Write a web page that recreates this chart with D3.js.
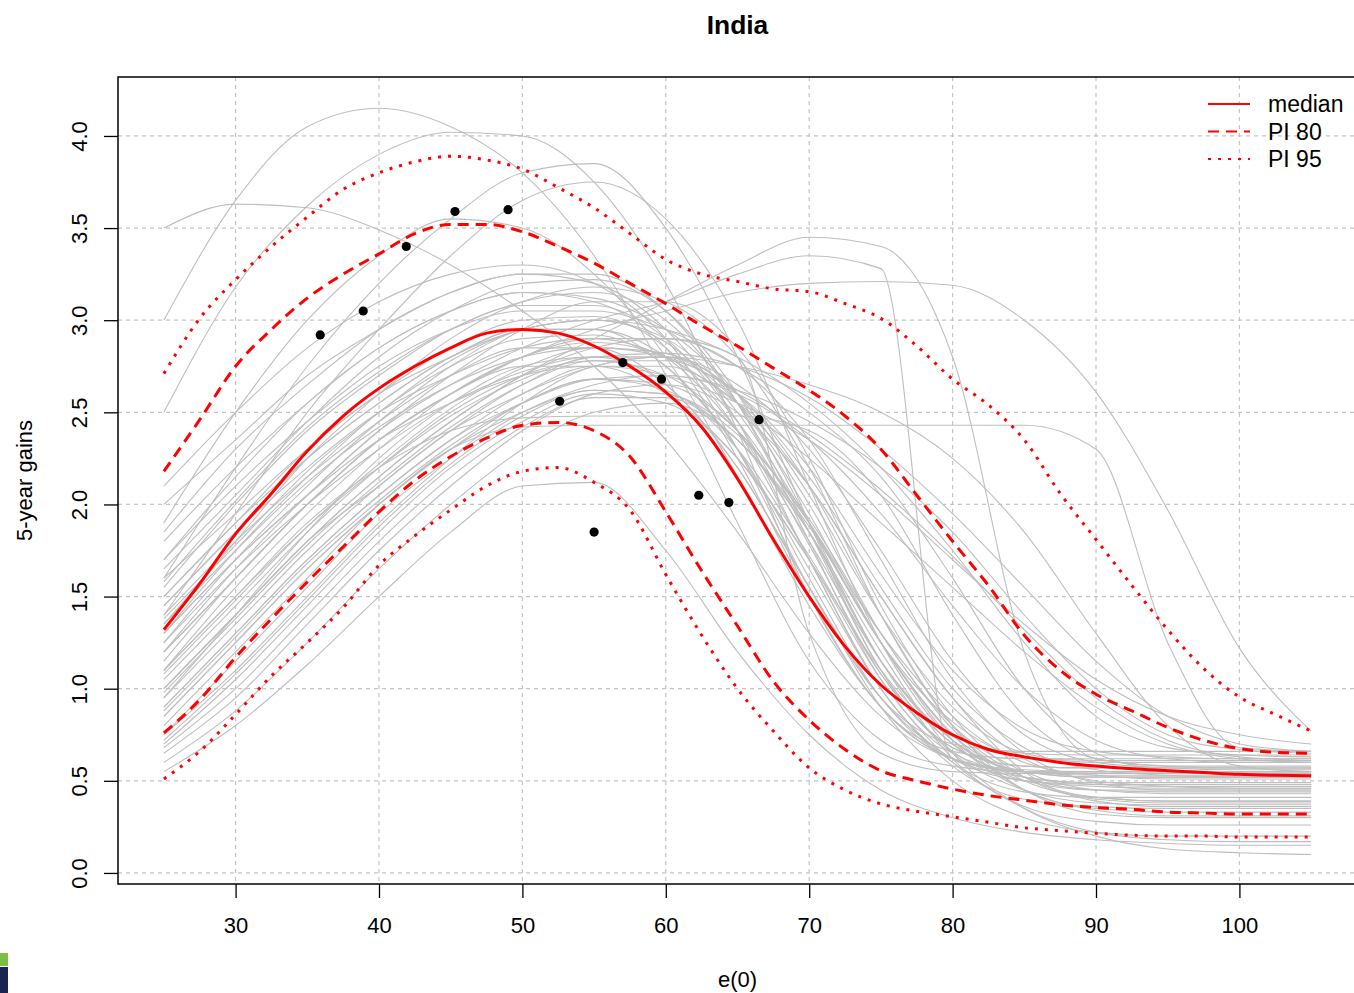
<!DOCTYPE html>
<html>
<head>
<meta charset="utf-8">
<script src="https://cdn.jsdelivr.net/npm/d3@7"></script>
<style>
body { margin: 0; background: #fff; }
text { font-family: "Liberation Sans", Arial, sans-serif; fill: #000; }
</style>
</head>
<body>
<svg width="1354" height="993"></svg>
<script>
// e(0) grid for the quantile lines
var e0Grid = [25,27.5,30,32.5,35,37.5,40,42.5,45,47.5,50,52.5,55,57.5,60,62.5,65,67.5,70,72.5,75,77.5,80,82.5,85,87.5,90,92.5,95,97.5,100,102.5,105];
var medianGain = [1.32,1.57,1.84,2.06,2.29,2.48,2.63,2.75,2.85,2.93,2.95,2.93,2.86,2.75,2.61,2.42,2.14,1.81,1.50,1.23,1.02,0.87,0.75,0.67,0.63,0.60,0.58,0.565,0.555,0.545,0.535,0.53,0.527];
var pi80High = [2.18,2.46,2.75,2.95,3.12,3.25,3.36,3.47,3.52,3.52,3.48,3.40,3.31,3.20,3.09,2.97,2.86,2.74,2.62,2.48,2.30,2.05,1.80,1.56,1.29,1.10,0.97,0.88,0.79,0.72,0.675,0.655,0.65];
var pi80Low = [0.76,0.94,1.17,1.38,1.58,1.77,1.96,2.13,2.26,2.36,2.43,2.445,2.40,2.26,1.96,1.64,1.34,1.04,0.83,0.67,0.555,0.50,0.455,0.42,0.395,0.37,0.355,0.345,0.33,0.325,0.32,0.32,0.32];
var pi95High = [2.71,3.01,3.22,3.40,3.56,3.71,3.80,3.86,3.89,3.87,3.82,3.72,3.61,3.47,3.33,3.25,3.21,3.17,3.155,3.09,3.01,2.86,2.68,2.54,2.35,2.06,1.81,1.56,1.32,1.11,0.955,0.86,0.77];
var pi95Low = [0.51,0.66,0.86,1.07,1.25,1.44,1.67,1.83,1.97,2.10,2.18,2.20,2.12,1.97,1.62,1.29,1.00,0.77,0.57,0.45,0.375,0.335,0.305,0.275,0.245,0.23,0.215,0.205,0.20,0.20,0.195,0.195,0.195];

// observed gains
var obsE0 = [35.9,38.9,41.9,45.3,49.0,52.6,55.0,57.0,59.7,62.3,64.4,66.5];
var obsGain = [2.92,3.05,3.40,3.59,3.60,2.56,1.85,2.77,2.68,2.05,2.01,2.46];

// simulated trajectories, one value per e(0) in trajGrid
var trajGrid = [25,30,35,40,45,50,55,60,65,70,75,80,85,90,95,100,105];
var trajectories = [
  [1.30,1.75,2.15,2.50,2.75,2.90,2.92,2.75,2.30,1.60,0.95,0.62,0.55,0.53,0.53,0.53,0.53],
  [1.10,1.55,1.95,2.30,2.60,2.80,2.88,2.80,2.45,1.85,1.15,0.70,0.52,0.48,0.47,0.47,0.47],
  [1.55,2.00,2.40,2.70,2.95,3.10,3.15,3.00,2.55,1.85,1.10,0.68,0.58,0.57,0.57,0.57,0.57],
  [0.95,1.35,1.75,2.10,2.40,2.65,2.80,2.80,2.55,2.00,1.30,0.80,0.55,0.45,0.43,0.43,0.43],
  [1.80,2.20,2.55,2.85,3.05,3.15,3.10,2.85,2.25,1.50,0.90,0.66,0.62,0.62,0.62,0.62,0.62],
  [1.20,1.65,2.05,2.40,2.70,2.95,3.10,3.10,2.85,2.25,1.45,0.85,0.52,0.40,0.38,0.38,0.38],
  [0.75,1.10,1.50,1.90,2.25,2.55,2.75,2.80,2.60,2.10,1.40,0.80,0.45,0.35,0.33,0.33,0.33],
  [1.65,2.05,2.45,2.80,3.05,3.20,3.22,3.05,2.60,1.90,1.15,0.74,0.65,0.64,0.64,0.64,0.64],
  [1.40,1.80,2.15,2.45,2.70,2.85,2.85,2.65,2.20,1.55,0.95,0.62,0.50,0.48,0.48,0.48,0.48],
  [2.00,2.35,2.70,2.95,3.15,3.25,3.25,3.05,2.55,1.80,1.05,0.65,0.55,0.55,0.55,0.55,0.55],
  [0.90,1.30,1.70,2.05,2.35,2.60,2.75,2.75,2.55,2.10,1.50,0.95,0.62,0.50,0.47,0.46,0.46],
  [1.05,1.45,1.85,2.20,2.50,2.70,2.78,2.70,2.40,1.90,1.30,0.85,0.60,0.53,0.51,0.51,0.51],
  [1.50,1.90,2.30,2.60,2.85,3.00,3.02,2.85,2.40,1.70,1.00,0.60,0.44,0.41,0.41,0.41,0.41],
  [0.65,0.95,1.35,1.75,2.10,2.40,2.60,2.65,2.50,2.10,1.50,0.95,0.55,0.39,0.36,0.36,0.36],
  [1.25,1.70,2.10,2.45,2.75,2.95,3.00,2.90,2.55,1.95,1.25,0.75,0.52,0.45,0.44,0.44,0.44],
  [1.85,2.30,2.65,2.95,3.15,3.25,3.20,2.95,2.45,1.70,1.00,0.62,0.52,0.49,0.49,0.49,0.49],
  [1.00,1.40,1.80,2.15,2.45,2.70,2.85,2.90,2.75,2.35,1.70,1.05,0.65,0.49,0.45,0.45,0.45],
  [1.60,1.95,2.30,2.60,2.80,2.95,2.95,2.80,2.40,1.80,1.15,0.72,0.55,0.52,0.52,0.52,0.52],
  [0.80,1.20,1.60,2.00,2.30,2.55,2.68,2.65,2.40,1.90,1.25,0.75,0.45,0.32,0.30,0.30,0.30],
  [1.35,1.80,2.25,2.60,2.90,3.10,3.18,3.10,2.80,2.20,1.40,0.80,0.52,0.41,0.39,0.39,0.39],
  [2.10,2.50,2.85,3.10,3.25,3.30,3.20,2.90,2.30,1.55,0.95,0.70,0.66,0.66,0.66,0.66,0.66],
  [0.70,1.05,1.45,1.85,2.20,2.45,2.60,2.55,2.25,1.70,1.05,0.60,0.36,0.28,0.26,0.26,0.26],
  [1.15,1.60,2.00,2.35,2.60,2.75,2.75,2.60,2.25,1.70,1.10,0.70,0.50,0.45,0.45,0.45,0.45],
  [1.70,2.15,2.55,2.85,3.05,3.15,3.12,2.95,2.60,2.05,1.40,0.90,0.65,0.60,0.60,0.60,0.60],
  [0.60,0.88,1.25,1.65,2.00,2.30,2.50,2.55,2.35,1.85,1.15,0.62,0.35,0.22,0.18,0.17,0.17],
  [0.55,0.80,1.13,1.50,1.85,2.10,2.12,1.75,1.20,0.75,0.45,0.30,0.22,0.18,0.16,0.15,0.15],
  [0.95,1.40,1.85,2.25,2.55,2.75,2.80,2.65,2.20,1.55,0.90,0.50,0.30,0.22,0.20,0.20,0.20],
  [1.45,1.85,2.25,2.55,2.80,2.95,2.95,2.75,2.30,1.65,1.00,0.58,0.40,0.36,0.35,0.35,0.35],
  [0.85,1.25,1.65,2.00,2.30,2.50,2.62,2.60,2.35,1.85,1.20,0.65,0.35,0.20,0.13,0.11,0.10],
  [1.25,1.65,2.00,2.30,2.55,2.72,2.80,2.80,2.65,2.30,1.75,1.15,0.75,0.60,0.57,0.56,0.56],
  [0.88,1.28,1.68,2.02,2.32,2.55,2.68,2.62,2.30,1.72,1.08,0.65,0.45,0.38,0.37,0.37,0.37],
  [1.38,1.78,2.18,2.50,2.78,2.95,3.00,2.88,2.50,1.90,1.25,0.82,0.63,0.61,0.61,0.61,0.61],
  [1.08,1.48,1.88,2.22,2.52,2.74,2.85,2.82,2.60,2.15,1.55,1.00,0.68,0.56,0.53,0.52,0.52],
  [0.68,1.00,1.40,1.80,2.15,2.42,2.58,2.58,2.35,1.88,1.25,0.72,0.45,0.34,0.31,0.31,0.31],
  [1.58,2.02,2.42,2.72,2.95,3.08,3.08,2.90,2.45,1.78,1.08,0.66,0.50,0.47,0.46,0.46,0.46],
  [0.98,1.38,1.78,2.12,2.42,2.65,2.78,2.78,2.60,2.20,1.62,1.10,0.78,0.66,0.63,0.62,0.62],
  [0.72,1.08,1.48,1.88,2.22,2.48,2.62,2.60,2.38,1.92,1.30,0.78,0.50,0.41,0.39,0.39,0.39],
  [3.00,3.65,4.05,4.15,4.05,3.80,3.35,2.70,1.90,1.15,0.72,0.58,0.55,0.55,0.55,0.55,0.55],
  [2.50,3.18,3.62,3.90,4.02,4.00,3.75,3.20,2.40,1.50,0.90,0.62,0.55,0.54,0.54,0.54,0.54],
  [3.50,3.63,3.61,3.49,3.30,3.05,2.75,2.35,1.85,1.30,0.85,0.62,0.56,0.55,0.55,0.55,0.55],
  [1.60,2.20,2.75,3.20,3.55,3.80,3.85,3.50,2.80,1.90,1.10,0.68,0.58,0.57,0.57,0.57,0.57],
  [1.90,2.50,3.00,3.35,3.55,3.50,3.25,2.80,2.15,1.45,0.90,0.62,0.55,0.55,0.55,0.55,0.55],
  [1.40,1.95,2.50,2.95,3.35,3.65,3.75,3.55,3.00,2.10,1.25,0.72,0.55,0.52,0.52,0.52,0.52],
  [1.00,1.40,1.80,2.15,2.45,2.70,2.90,3.10,3.30,3.45,3.40,2.80,1.20,0.62,0.58,0.57,0.57],
  [1.30,1.70,2.05,2.40,2.65,2.85,3.00,3.10,3.25,3.35,3.28,0.62,0.55,0.55,0.55,0.55,0.55],
  [1.20,1.60,2.00,2.35,2.60,2.80,2.95,3.05,3.15,3.20,3.21,3.19,3.00,2.61,1.97,1.22,0.77],
  [0.85,1.25,1.65,2.00,2.30,2.42,2.43,2.43,2.43,2.43,2.43,2.43,2.43,2.30,1.25,0.68,0.66],
  [1.10,1.50,1.90,2.20,2.40,2.47,2.48,2.48,2.48,2.40,2.05,1.40,0.85,0.62,0.58,0.58,0.58],
  [1.30,1.70,2.05,2.35,2.55,2.70,2.75,2.70,2.55,2.35,2.05,1.70,1.35,1.05,0.85,0.75,0.70],
  [0.90,1.30,1.70,2.05,2.35,2.55,2.68,2.70,2.62,2.45,2.20,1.85,1.40,1.00,0.75,0.67,0.65],
  [1.50,1.90,2.25,2.55,2.80,2.95,3.00,2.95,2.80,2.55,2.20,1.75,1.25,0.85,0.68,0.64,0.63],
  [0.75,1.15,1.55,1.95,2.25,2.50,2.65,2.70,2.60,2.35,1.95,1.45,1.00,0.72,0.62,0.60,0.60],
  [1.70,2.10,2.45,2.75,2.95,3.05,3.05,2.95,2.75,2.50,2.15,1.60,1.00,0.65,0.56,0.55,0.55],
  [1.00,1.40,1.80,2.10,2.40,2.60,2.75,2.80,2.75,2.65,2.50,2.25,1.85,1.30,0.80,0.58,0.55],
  [1.45,1.85,2.20,2.50,2.70,2.85,2.90,2.80,2.55,2.25,1.90,1.55,1.20,0.90,0.70,0.62,0.60],
  [1.10,1.50,1.88,2.20,2.48,2.68,2.80,2.82,2.75,2.58,2.30,1.95,1.55,1.15,0.85,0.70,0.66],
  [1.35,1.75,2.12,2.42,2.65,2.80,2.85,2.80,2.62,2.38,2.08,1.72,1.32,0.95,0.72,0.63,0.61],
  [1.20,1.60,2.00,2.35,2.60,2.80,2.90,2.90,2.80,1.30,0.65,0.55,0.54,0.54,0.54,0.54,0.54]
];

var xTicks = [30,40,50,60,70,80,90,100];
var yTicks = [0,0.5,1,1.5,2,2.5,3,3.5,4];
var yTickLabels = ["0.0","0.5","1.0","1.5","2.0","2.5","3.0","3.5","4.0"];
var legendLabels = ["median","PI 80","PI 95"];

var svg = d3.select("svg"),
    width = +svg.attr("width"),
    height = +svg.attr("height");

var plotLeft = 118, plotRight = 1357, plotTop = 77, plotBottom = 884;

var x = d3.scaleLinear().domain([21.8, 108.2]).range([plotLeft, plotRight]);
var y = d3.scaleLinear().domain([-0.06, 4.32]).range([plotBottom, plotTop]);

svg.append("rect").attr("width", width).attr("height", height).attr("fill", "#fff");

svg.append("defs").append("clipPath").attr("id", "plotclip")
  .append("rect").attr("x", plotLeft).attr("y", plotTop)
  .attr("width", plotRight - plotLeft).attr("height", plotBottom - plotTop);

// grid (R grid(): dotted lightgray)
var grid = svg.append("g").attr("stroke", "#c4c4c4").attr("stroke-width", 1.2).attr("stroke-dasharray", "4,4");
grid.selectAll(".gx").data(xTicks).enter().append("line")
  .attr("x1", function(d) { return x(d); }).attr("x2", function(d) { return x(d); })
  .attr("y1", plotTop).attr("y2", plotBottom);
grid.selectAll(".gy").data(yTicks).enter().append("line")
  .attr("x1", plotLeft).attr("x2", plotRight)
  .attr("y1", function(d) { return y(d); }).attr("y2", function(d) { return y(d); });

var plot = svg.append("g").attr("clip-path", "url(#plotclip)");

var trajLine = d3.line()
  .x(function(d, i) { return x(trajGrid[i]); })
  .y(function(d) { return y(d); })
  .curve(d3.curveMonotoneX);

plot.selectAll(".traj").data(trajectories).enter().append("path")
  .attr("class", "traj")
  .attr("d", trajLine)
  .attr("fill", "none")
  .attr("stroke", "#bebebe")
  .attr("stroke-width", 1.1);

var qLine = d3.line()
  .x(function(d, i) { return x(e0Grid[i]); })
  .y(function(d) { return y(d); })
  .curve(d3.curveMonotoneX);

var quantiles = [
  {v: pi95High, dash: "3,7", w: 3},
  {v: pi95Low, dash: "3,7", w: 3},
  {v: pi80High, dash: "11,7", w: 3},
  {v: pi80Low, dash: "11,7", w: 3},
  {v: medianGain, dash: null, w: 3}
];
plot.selectAll(".q").data(quantiles).enter().append("path")
  .attr("d", function(d) { return qLine(d.v); })
  .attr("fill", "none")
  .attr("stroke", "#ff0000")
  .attr("stroke-width", function(d) { return d.w; })
  .attr("stroke-dasharray", function(d) { return d.dash; });

plot.selectAll(".obs").data(obsE0).enter().append("circle")
  .attr("cx", function(d) { return x(d); })
  .attr("cy", function(d, i) { return y(obsGain[i]); })
  .attr("r", 4.6)
  .attr("fill", "#000");

// axes
var xAxis = svg.append("g").attr("transform", "translate(0," + plotBottom + ")")
  .call(d3.axisBottom(x).tickValues(xTicks).tickSize(14).tickSizeOuter(0).tickPadding(19).tickFormat(d3.format("d")));
xAxis.select(".domain").remove();
xAxis.selectAll("text").attr("font-size", 22).attr("font-family", "Liberation Sans, Arial, sans-serif");
xAxis.selectAll("line").attr("stroke", "#000").attr("stroke-width", 1.3);

var yAxis = svg.append("g").attr("transform", "translate(" + plotLeft + ",0)")
  .call(d3.axisLeft(y).tickValues(yTicks).tickSize(14).tickSizeOuter(0)
    .tickFormat(function(d, i) { return yTickLabels[i]; }));
yAxis.select(".domain").remove();
yAxis.selectAll("line").attr("stroke", "#000").attr("stroke-width", 1.3);
yAxis.selectAll("text")
  .attr("font-size", 22).attr("font-family", "Liberation Sans, Arial, sans-serif")
  .attr("x", 0).attr("y", -31).attr("dy", 0)
  .attr("text-anchor", "middle")
  .attr("transform", "rotate(-90)");

svg.append("rect")
  .attr("x", plotLeft).attr("y", plotTop)
  .attr("width", plotRight - plotLeft).attr("height", plotBottom - plotTop)
  .attr("fill", "none").attr("stroke", "#000").attr("stroke-width", 1.5);

// titles
svg.append("text").attr("x", (plotLeft + plotRight) / 2).attr("y", 34)
  .attr("text-anchor", "middle").attr("font-size", 26.4).attr("font-weight", "bold").text("India");
svg.append("text").attr("x", (plotLeft + plotRight) / 2).attr("y", 987)
  .attr("text-anchor", "middle").attr("font-size", 22).text("e(0)");
svg.append("text").attr("transform", "translate(32," + ((plotTop + plotBottom) / 2) + ") rotate(-90)")
  .attr("text-anchor", "middle").attr("font-size", 22).text("5-year gains");

// legend
var legendStyles = [null, "11,7", "3,7"];
var legend = svg.append("g").attr("transform", "translate(1208,104)");
var item = legend.selectAll("g").data(legendLabels).enter().append("g")
  .attr("transform", function(d, i) { return "translate(0," + (i * 27.5) + ")"; });
item.append("line").attr("x1", 0).attr("x2", 42).attr("y1", 0).attr("y2", 0)
  .attr("stroke", "#ff0000").attr("stroke-width", 2)
  .attr("stroke-dasharray", function(d, i) { return legendStyles[i]; });
item.append("text").attr("x", 60).attr("y", 8).attr("font-size", 23).text(function(d) { return d; });

// small colour mark in the bottom-left corner
svg.append("rect").attr("x", 0).attr("y", 953).attr("width", 8).attr("height", 13).attr("fill", "#7cbf45");
svg.append("rect").attr("x", 0).attr("y", 967).attr("width", 8).attr("height", 26).attr("fill", "#1b2350");
</script>
</body>
</html>
